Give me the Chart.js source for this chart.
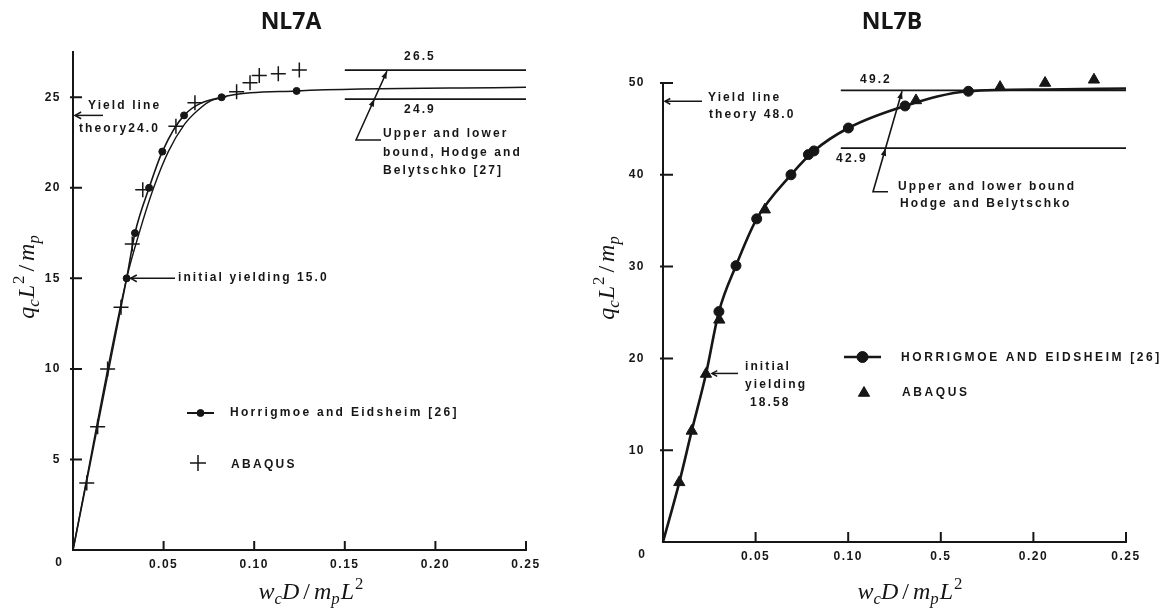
<!DOCTYPE html>
<html><head><meta charset="utf-8">
<script src="https://cdn.jsdelivr.net/npm/chart.js@4.4.1/dist/chart.umd.min.js"></script>
<style>
html,body{margin:0;padding:0;background:#fff;width:1168px;height:612px;overflow:hidden}
.w{position:absolute;top:0;width:584px;height:612px}
</style></head><body>
<div class="w" style="left:0"><canvas id="cA" width="584" height="612"></canvas></div>
<div class="w" style="left:584px"><canvas id="cB" width="584" height="612"></canvas></div>
<script>
// ---------------- NL7A data ----------------
const xTicksA = [0.05, 0.10, 0.15, 0.20, 0.25];
const xTickLabelsA = ['0.05', '0.10', '0.15', '0.20', '0.25'];
const yTicksA = [5, 10, 15, 20, 25];
const heXA = [0.0296, 0.0342, 0.042, 0.0493, 0.0613, 0.082, 0.1234];
const heYA = [15.0, 17.5, 20.0, 22.0, 24.0, 25.0, 25.35];
const heCurveXA = [0, 0.0296, 0.0342, 0.042, 0.0493, 0.0613, 0.082, 0.1234, 0.25];
const heCurveYA = [0, 15.0, 17.5, 20.0, 22.0, 24.0, 25.0, 25.35, 25.55];
const abqCurveXA = [0, 0.0296, 0.0365, 0.0445, 0.0526, 0.0615, 0.068, 0.075, 0.085];
const abqCurveYA = [0, 15.0, 17.5, 20.0, 22.0, 23.5, 24.2, 24.75, 25.05];
const abqXA = [0.0076, 0.0136, 0.0191, 0.0265, 0.0327, 0.0385, 0.0568, 0.0673, 0.0903, 0.0977, 0.1028, 0.1133, 0.1249];
const abqYA = [3.7, 6.8, 10.0, 13.4, 16.9, 19.9, 23.4, 24.7, 25.3, 25.8, 26.2, 26.3, 26.5];
const boundsA = [26.5, 24.9];
const boundXA = [0.15, 0.25];
const yieldA = 24.0, initA = 15.0;

// ---------------- NL7B data ----------------
const xTicksB = [0.05, 0.10, 0.15, 0.20, 0.25];
const xTickLabelsB = ['0.05', '0.10', '0.5', '0.20', '0.25'];
const yTicksB = [10, 20, 30, 40, 50];
const heXB = [0.0302, 0.0394, 0.0506, 0.0691, 0.0785, 0.0815, 0.1001, 0.1307, 0.1649];
const heYB = [25.1, 30.1, 35.2, 40.0, 42.2, 42.6, 45.1, 47.5, 49.1];
const abqXB = [0.0088, 0.0155, 0.0232, 0.0304, 0.055, 0.1366, 0.182, 0.2063, 0.2327];
const abqYB = [6.5, 12.1, 18.3, 24.2, 36.2, 48.1, 49.55, 50.0, 50.35];
const curveXB = [0, 0.0088, 0.0155, 0.0232, 0.0302, 0.0394, 0.0506, 0.0691, 0.0815, 0.1001, 0.1307, 0.1649, 0.2063, 0.25];
const curveYB = [0, 6.5, 12.1, 18.3, 25.1, 30.1, 35.2, 40.0, 42.6, 45.1, 47.5, 49.1, 49.3, 49.4];
const boundsB = [49.2, 42.9];
const boundXB = [0.096, 0.25];
const yieldB = 48.0, initB = 18.58;

// ---------------- helpers ----------------
const INK = '#161616';
const SANS = '"Liberation Sans", Arial, sans-serif';
const SERIF = '"Liberation Serif", "DejaVu Serif", serif';
const pts = (xs, ys) => xs.map((x, i) => ({x: x, y: ys[i]}));

function txt(ctx, s, x, y, align, font, sp) {
  ctx.save();
  ctx.font = font || ('bold 12px ' + SANS);
  ctx.letterSpacing = (sp === undefined ? 2.1 : sp) + 'px';
  ctx.fillStyle = INK;
  ctx.textAlign = align || 'left';
  ctx.textBaseline = 'middle';
  ctx.fillText(s, x, y);
  ctx.restore();
}
function line(ctx, p, w) {
  ctx.save(); ctx.strokeStyle = INK; ctx.lineWidth = w || 1.6; ctx.lineJoin = 'miter';
  ctx.beginPath(); ctx.moveTo(p[0][0], p[0][1]);
  for (let i = 1; i < p.length; i++) ctx.lineTo(p[i][0], p[i][1]);
  ctx.stroke(); ctx.restore();
}
function openHead(ctx, fx, fy, tx, ty, s, w) {
  const a = Math.atan2(ty - fy, tx - fx);
  line(ctx, [[tx - s * Math.cos(a - 0.5), ty - s * Math.sin(a - 0.5)], [tx, ty], [tx - s * Math.cos(a + 0.5), ty - s * Math.sin(a + 0.5)]], w || 1.5);
}
function fillHead(ctx, fx, fy, tx, ty, s) {
  const a = Math.atan2(ty - fy, tx - fx);
  ctx.save(); ctx.fillStyle = INK; ctx.beginPath();
  ctx.moveTo(tx, ty);
  ctx.lineTo(tx - s * Math.cos(a - 0.35), ty - s * Math.sin(a - 0.35));
  ctx.lineTo(tx - s * Math.cos(a + 0.35), ty - s * Math.sin(a + 0.35));
  ctx.closePath(); ctx.fill(); ctx.restore();
}
function rich(ctx, parts, cx, cy, size, rot) {
  ctx.save();
  ctx.translate(cx, cy); if (rot) ctx.rotate(rot);
  ctx.letterSpacing = '0px';
  ctx.fillStyle = INK; ctx.textBaseline = 'alphabetic'; ctx.textAlign = 'left';
  const spec = parts.map(p => {
    const small = (p.k === 'sub' || p.k === 'sup');
    const sz = small ? size * 0.7 : size;
    const f = (p.k === 'sup' || p.k === 'r' ? '' : 'italic ') + sz + 'px ' + SERIF;
    ctx.font = f;
    const dy = p.k === 'sub' ? size * 0.22 : (p.k === 'sup' ? -size * 0.42 : 0);
    return {t: p.t, f: f, dy: dy, w: ctx.measureText(p.t).width, g: p.g || 0};
  });
  const total = spec.reduce((s, p) => s + p.w + p.g, 0);
  let x = -total / 2;
  spec.forEach(p => { x += p.g; ctx.font = p.f; ctx.fillText(p.t, x, size * 0.3 + p.dy); x += p.w; });
  ctx.restore();
}
const Y_TITLE = [{t: 'q', k: 'i'}, {t: 'c', k: 'sub'}, {t: 'L', k: 'i', g: 1}, {t: '2', k: 'sup', g: 1}, {t: '/', k: 'r', g: 4}, {t: 'm', k: 'i', g: 4}, {t: 'p', k: 'sub'}];
const X_TITLE = [{t: 'w', k: 'i'}, {t: 'c', k: 'sub'}, {t: 'D', k: 'i'}, {t: '/', k: 'r', g: 4}, {t: 'm', k: 'i', g: 4}, {t: 'p', k: 'sub'}, {t: 'L', k: 'i', g: 1}, {t: '2', k: 'sup', g: 1}];

function inwardTicks(chart, len) {
  const ctx = chart.ctx, xs = chart.scales.x, ys = chart.scales.y, a = chart.chartArea;
  ctx.save(); ctx.strokeStyle = INK; ctx.lineWidth = 2; ctx.beginPath();
  xs.ticks.forEach(t => { const px = xs.getPixelForValue(t.value); ctx.moveTo(px, a.bottom); ctx.lineTo(px, a.bottom - len); });
  ys.ticks.forEach(t => { const py = ys.getPixelForValue(t.value); ctx.moveTo(a.left - 3, py); ctx.lineTo(a.left + len, py); });
  ctx.stroke(); ctx.restore();
}

function makeScales(xTicks, xLabels, yTicks, yMax, yW, xH, yPad) {
  const tickFont = {family: SANS, size: 12, weight: 'bold'};
  return {
    x: {
      type: 'linear', min: 0, max: 0.25,
      afterFit: s => { s.height = xH; },
      afterBuildTicks: s => { s.ticks = xTicks.map(v => ({value: v})); },
      ticks: {callback: (v, i) => xLabels[i], font: tickFont, color: INK, padding: 7, maxRotation: 0, autoSkip: false},
      grid: {display: true, drawOnChartArea: false, drawTicks: false},
      border: {display: true, color: INK, width: 2}
    },
    y: {
      type: 'linear', min: 0, max: yMax,
      afterFit: s => { s.width = yW; },
      afterBuildTicks: s => { s.ticks = yTicks.map(v => ({value: v})); },
      ticks: {callback: v => String(v), font: tickFont, color: INK, padding: yPad, autoSkip: false},
      grid: {display: true, drawOnChartArea: false, drawTicks: false},
      border: {display: true, color: INK, width: 2}
    }
  };
}
const spacingPlugin = {id: 'sp', beforeDraw: c => { c.ctx.letterSpacing = '1.5px'; }};

// ---------------- Chart A ----------------
const annA = {
  id: 'annA',
  afterDraw(chart) {
    const ctx = chart.ctx, xs = chart.scales.x, ys = chart.scales.y, a = chart.chartArea;
    inwardTicks(chart, 9);
    txt(ctx, '0', 59, 563, 'center', 'bold 12px ' + SANS, 1);
    // title and axis titles
    txt(ctx, 'NL7A', 291, 22, 'center', 'bold 23px "Open Sans", ' + SANS, 0);
    rich(ctx, Y_TITLE, 27, 277, 24, -Math.PI / 2);
    rich(ctx, X_TITLE, 311, 592, 24, 0);
    // yield line theory
    const yy = ys.getPixelForValue(yieldA);
    line(ctx, [[103, yy], [a.left + 2, yy]], 1.5);
    openHead(ctx, 103, yy, a.left + 2, yy, 7);
    txt(ctx, 'Yield line', 88, 106);
    txt(ctx, 'theory24.0', 79, 129);
    // initial yielding
    const iy = ys.getPixelForValue(initA), ix = xs.getPixelForValue(heXA[0]) + 4;
    line(ctx, [[175, iy], [ix, iy]], 1.5);
    openHead(ctx, 175, iy, ix, iy, 7);
    txt(ctx, 'initial yielding 15.0', 178, 278);
    // bounds
    const ty = ys.getPixelForValue(boundsA[0]), by = ys.getPixelForValue(boundsA[1]);
    txt(ctx, boundsA[0].toFixed(1), 420, ty - 13, 'center');
    txt(ctx, boundsA[1].toFixed(1), 420, by + 11, 'center');
    const cx = 356, cy = 140, tx = 387, tyy = ty + 1;
    line(ctx, [[381, cy], [cx, cy], [tx, tyy]], 1.5);
    fillHead(ctx, cx, cy, tx, tyy, 8);
    const t = (cy - by) / (cy - tyy), mx = cx + t * (tx - cx);
    fillHead(ctx, cx, cy, mx, by, 8);
    txt(ctx, 'Upper and lower', 383, 134);
    txt(ctx, 'bound, Hodge and', 383, 153);
    txt(ctx, 'Belytschko [27]', 383, 171);
    // legend
    line(ctx, [[187, 413], [214, 413]], 2);
    ctx.save(); ctx.fillStyle = INK; ctx.strokeStyle = INK;
    Chart.helpers.drawPoint(ctx, {pointStyle: 'circle', radius: 3.5, borderWidth: 1, rotation: 0}, 200.5, 413);
    ctx.lineWidth = 1.5;
    Chart.helpers.drawPoint(ctx, {pointStyle: 'cross', radius: 8, borderWidth: 1.5, rotation: 0}, 198, 463);
    ctx.restore();
    txt(ctx, 'Horrigmoe and Eidsheim [26]', 230, 413, 'left', 'bold 12px ' + SANS, 2.3);
    txt(ctx, 'ABAQUS', 231, 465, 'left', 'bold 12px ' + SANS, 2.3);
  }
};

new Chart(document.getElementById('cA'), {
  type: 'scatter',
  data: {
    datasets: [
      {label: 'Horrigmoe and Eidsheim [26]', data: pts(heXA, heYA), order: 1, showLine: false,
        pointStyle: 'circle', pointRadius: 3.5, backgroundColor: INK, borderColor: INK, borderWidth: 1, clip: false},
      {label: 'ABAQUS', data: pts(abqXA, abqYA), order: 2, showLine: false,
        pointStyle: 'cross', pointRadius: 7.5, borderColor: INK, borderWidth: 1.5, clip: false},
      {label: 'H&E curve', data: pts(heCurveXA, heCurveYA), order: 3, showLine: true, pointRadius: 0,
        borderColor: INK, borderWidth: 1.6, cubicInterpolationMode: 'monotone', clip: false},
      {label: 'ABAQUS curve', data: pts(abqCurveXA, abqCurveYA), order: 4, showLine: true, pointRadius: 0,
        borderColor: INK, borderWidth: 1.4, cubicInterpolationMode: 'monotone', clip: false},
      {label: 'Upper bound', data: pts(boundXA, [boundsA[0], boundsA[0]]), order: 5, showLine: true, pointRadius: 0,
        borderColor: INK, borderWidth: 1.8, clip: false},
      {label: 'Lower bound', data: pts(boundXA, [boundsA[1], boundsA[1]]), order: 6, showLine: true, pointRadius: 0,
        borderColor: INK, borderWidth: 1.8, clip: false}
    ]
  },
  options: {
    responsive: false, animation: false, devicePixelRatio: 1,
    layout: {padding: {left: 0, top: 52, right: 58, bottom: 0}},
    plugins: {legend: {display: false}, tooltip: {enabled: false}},
    scales: makeScales(xTicksA, xTickLabelsA, yTicksA, 27.5, 73, 62, 12)
  },
  plugins: [spacingPlugin, annA]
});

// ---------------- Chart B ----------------
const annB = {
  id: 'annB',
  afterDraw(chart) {
    const ctx = chart.ctx, xs = chart.scales.x, ys = chart.scales.y, a = chart.chartArea;
    inwardTicks(chart, 10);
    txt(ctx, '0', 58, 555, 'center', 'bold 12px ' + SANS, 1);
    txt(ctx, 'NL7B', 308, 22, 'center', 'bold 23px "Open Sans", ' + SANS, 0);
    rich(ctx, Y_TITLE, 23, 278, 24, -Math.PI / 2);
    rich(ctx, X_TITLE, 326, 592, 24, 0);
    // yield line theory
    const yy = ys.getPixelForValue(yieldB);
    line(ctx, [[118, yy], [a.left + 2, yy]], 1.5);
    openHead(ctx, 118, yy, a.left + 2, yy, 6);
    txt(ctx, 'Yield line', 124, yy - 4);
    txt(ctx, 'theory 48.0', 125, yy + 13);
    // initial yielding
    const iy = ys.getPixelForValue(initB) + 2, ix = xs.getPixelForValue(abqXB[2]) + 6;
    line(ctx, [[154, iy], [ix, iy]], 1.5);
    openHead(ctx, 154, iy, ix, iy, 6);
    txt(ctx, 'initial', 161, 367);
    txt(ctx, 'yielding', 161, 385);
    txt(ctx, '18.58', 166, 403);
    // bounds
    const ty = ys.getPixelForValue(boundsB[0]), by = ys.getPixelForValue(boundsB[1]);
    txt(ctx, boundsB[0].toFixed(1), 292, ty - 11, 'center');
    txt(ctx, boundsB[1].toFixed(1), 268, by + 11, 'center');
    const cx = 289, cy = 191.7, tx = 318, tyy = ty + 1;
    line(ctx, [[304, cy], [cx, cy], [tx, tyy]], 1.6);
    fillHead(ctx, cx, cy, tx, tyy, 8);
    const t = (cy - by) / (cy - tyy), mx = cx + t * (tx - cx);
    fillHead(ctx, cx, cy, mx, by, 8);
    txt(ctx, 'Upper and lower bound', 314, 187);
    txt(ctx, 'Hodge and Belytschko', 316, 204);
    // legend
    line(ctx, [[260, 357], [297, 357]], 2.6);
    ctx.save(); ctx.fillStyle = INK; ctx.strokeStyle = INK;
    Chart.helpers.drawPoint(ctx, {pointStyle: 'circle', radius: 5.5, borderWidth: 1, rotation: 0}, 278.5, 357);
    Chart.helpers.drawPoint(ctx, {pointStyle: 'triangle', radius: 6.5, borderWidth: 1, rotation: 0}, 280, 393);
    ctx.restore();
    txt(ctx, 'HORRIGMOE AND EIDSHEIM [26]', 317, 358, 'left', 'bold 12px ' + SANS, 2.6);
    txt(ctx, 'ABAQUS', 318, 393, 'left', 'bold 12px ' + SANS, 2.6);
  }
};

new Chart(document.getElementById('cB'), {
  type: 'scatter',
  data: {
    datasets: [
      {label: 'HORRIGMOE AND EIDSHEIM [26]', data: pts(heXB, heYB), order: 1, showLine: false,
        pointStyle: 'circle', pointRadius: 5, backgroundColor: INK, borderColor: INK, borderWidth: 1, clip: false},
      {label: 'ABAQUS', data: pts(abqXB, abqYB), order: 2, showLine: false,
        pointStyle: 'triangle', pointRadius: 6.5, backgroundColor: INK, borderColor: INK, borderWidth: 1, clip: false},
      {label: 'curve', data: pts(curveXB, curveYB), order: 3, showLine: true, pointRadius: 0,
        borderColor: INK, borderWidth: 2.6, cubicInterpolationMode: 'monotone', clip: false},
      {label: 'Upper bound', data: pts(boundXB, [boundsB[0], boundsB[0]]), order: 4, showLine: true, pointRadius: 0,
        borderColor: INK, borderWidth: 1.8, clip: false},
      {label: 'Lower bound', data: pts(boundXB, [boundsB[1], boundsB[1]]), order: 5, showLine: true, pointRadius: 0,
        borderColor: INK, borderWidth: 1.8, clip: false}
    ]
  },
  options: {
    responsive: false, animation: false, devicePixelRatio: 1,
    layout: {padding: {left: 0, top: 83, right: 42, bottom: 0}},
    plugins: {legend: {display: false}, tooltip: {enabled: false}},
    scales: makeScales(xTicksB, xTickLabelsB, yTicksB, 50, 79, 70, 18)
  },
  plugins: [spacingPlugin, annB]
});
</script>
</body></html>
